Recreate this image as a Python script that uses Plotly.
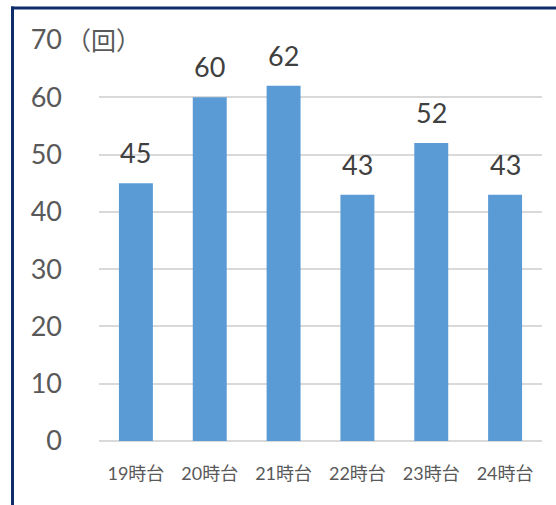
import plotly.graph_objects as go

categories = ["19時台", "20時台", "21時台", "22時台", "23時台", "24時台"]
values = [45, 60, 62, 43, 52, 43]
y_ticks = [0, 10, 20, 30, 40, 50, 60, 70]

FONT = "Lato, 'Noto Sans CJK JP', sans-serif"

fig = go.Figure()
fig.add_trace(go.Bar(
    x=categories, y=values,
    marker=dict(color="#5B9BD5", line=dict(width=0)),
    width=0.46,
    cliponaxis=False,
))

W, H = 556, 505
ml, mr, mt, mb = 99, 14, 40, 64
pw, ph = W - ml - mr, H - mt - mb

def px_to_paper_x(px):
    return (px - ml) / pw

def px_to_paper_y(py):
    return (H - mb - py) / ph

annotations = [dict(
    text="（回）", xref="paper", yref="y",
    x=px_to_paper_x(64), y=70, xanchor="left", yanchor="middle",
    showarrow=False,
    font=dict(size=25, color="#595959", family=FONT),
)]
for c, v in zip(categories, values):
    annotations.append(dict(
        text=str(v), x=c, y=v, xref="x", yref="y",
        xanchor="center", yanchor="bottom", yshift=12,
        showarrow=False,
        font=dict(size=27, color="#404040", family=FONT),
    ))

navy = "#0F2D6B"
shapes = [
    dict(type="rect", xref="paper", yref="paper",
         x0=px_to_paper_x(11), x1=px_to_paper_x(560),
         y0=px_to_paper_y(9.5), y1=px_to_paper_y(6.5),
         line=dict(width=0), fillcolor=navy, layer="above"),
    dict(type="rect", xref="paper", yref="paper",
         x0=px_to_paper_x(11), x1=px_to_paper_x(14),
         y0=px_to_paper_y(510), y1=px_to_paper_y(6.5),
         line=dict(width=0), fillcolor=navy, layer="above"),
]

fig.update_layout(
    width=W, height=H,
    margin=dict(l=ml, r=mr, t=mt, b=mb),
    paper_bgcolor="white", plot_bgcolor="white",
    showlegend=False,
    font=dict(family=FONT, color="#595959"),
    xaxis=dict(
        showgrid=False, showline=False, ticks="",
        tickfont=dict(size=18, color="#595959", family=FONT),
        ticklabelstandoff=20,
    ),
    yaxis=dict(
        range=[0, 70], tickvals=y_ticks,
        showgrid=True, gridcolor="#D9D9D9", gridwidth=1.5,
        zeroline=True, zerolinecolor="#D9D9D9", zerolinewidth=1.5,
        showline=False, ticks="",
        tickfont=dict(size=27, color="#595959", family=FONT),
        ticklabelstandoff=36,
    ),
    shapes=shapes,
    annotations=annotations,
)

fig.write_html(
    "out.html",
    config={"displayModeBar": False},
    post_script="document.body.style.margin='0';document.body.style.overflow='hidden';window.scrollTo(0,0);",
)
